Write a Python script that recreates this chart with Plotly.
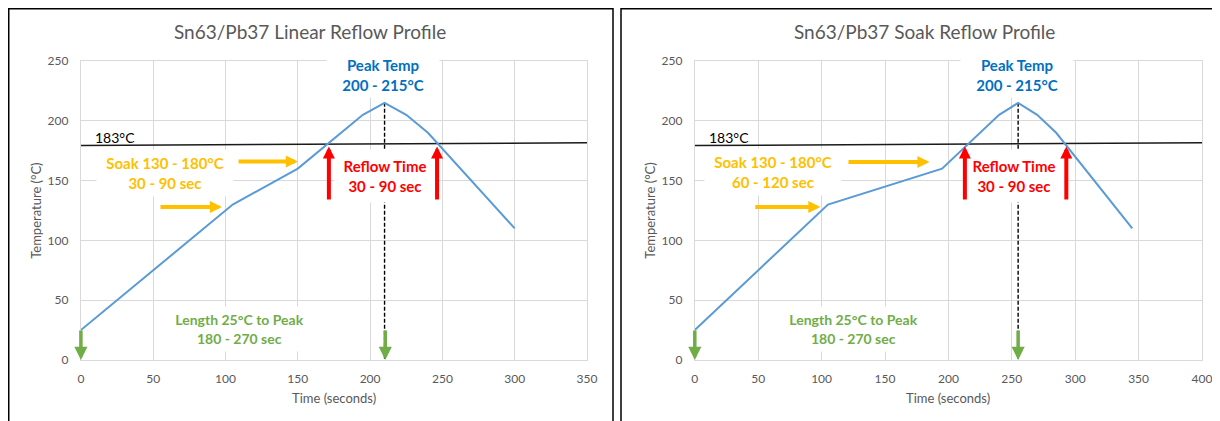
import plotly.graph_objects as go

# page shows the figure with an 8px body margin; compensate
OFF = 8
W, H = 1220 - OFF, 421 - OFF

# ---------------- data ----------------
linear_time = [0, 105, 150, 195, 210, 225, 240, 300]
linear_temp = [25, 130, 160, 205, 215, 205, 190, 110]
soak_time = [0, 105, 195, 240, 255, 270, 285, 345]
soak_temp = [25, 130, 160, 205, 215, 205, 190, 110]

titles = ["Sn63/Pb37 Linear Reflow Profile", "Sn63/Pb37 Soak Reflow Profile"]
x_max = [350, 400]
y_ticks = [0, 50, 100, 150, 200, 250]

liquidus_label = "183°C"
liquidus_y = [179.3, 181.7]          # drawn 183°C line (left end, right end)
peak_time = [210, 255]               # dashed peak markers
peak_temp = 215

# horizontal soak arrows: (x_tail, x_tip, y)
soak_arrows = [
    [(54, 97.5, 128), (108, 150, 166)],
    [(46.5, 99, 128), (120, 185, 165.5)],
]
# vertical reflow arrows
reflow_x = [[171.5, 246.3], [213, 293]]
reflow_y = (133, 178.5)               # tail, tip
# green "length" arrows
length_x = [[0, 210.5], [0, 255]]
length_y = (26, 0)                    # tail, tip

soak_text = ["Soak 130 - 180°C<br>30 - 90 sec", "Soak 130 - 180°C<br>60 - 120 sec"]
peak_text = "Peak Temp<br>200 - 215°C"
reflow_text = "Reflow Time<br>30 - 90 sec"
length_text = "Length 25°C to Peak<br>180 - 270 sec"

# label anchor positions (data units)
liquidus_label_pos = [(23.3, 186), (26.7, 186)]
peak_text_pos = [(208.7, 238.5), (254, 238.5)]
reflow_text_pos = [(210, 153.5), (252, 153.5)]
soak_text_pos = [(58, 156), (62, 157)]
length_text_pos = [(110, 26), (125.5, 26)]

# ---------------- styling ----------------
FONT = "Lato"
BLUE = "#5B9BD5"
GRID = "#D9D9D9"
GRAYTXT = "#595959"
C_PEAK = "#0070C0"
C_SOAK = "#FFC000"
C_REFLOW = "#FF0000"
C_LEN = "#70AD47"

# window pixel geometry of the reference, converted to figure pixels
px0 = [80.9 - OFF, 694.8 - OFF]
px1 = [587.0 - OFF, 1202.0 - OFF]
py_top, py_bot = 61.0 - OFF, 360.0 - OFF

fig = go.Figure()
series = [(linear_time, linear_temp), (soak_time, soak_temp)]
annotations = []
shapes = []

for i in range(2):
    xa = "x" if i == 0 else "x2"
    ya = "y" if i == 0 else "y2"
    t, v = series[i]
    # liquidus line
    fig.add_trace(go.Scatter(x=[0, x_max[i]], y=liquidus_y, mode="lines",
                             line=dict(color="#1a1a1a", width=1.5),
                             xaxis=xa, yaxis=ya, showlegend=False, hoverinfo="skip"))
    # dashed peak marker
    fig.add_trace(go.Scatter(x=[peak_time[i], peak_time[i]], y=[peak_temp, 0], mode="lines",
                             line=dict(color="#000000", width=1.4, dash="4px,2px"),
                             xaxis=xa, yaxis=ya, showlegend=False, hoverinfo="skip"))
    # profile
    fig.add_trace(go.Scatter(x=t, y=v, mode="lines", line=dict(color=BLUE, width=2),
                             xaxis=xa, yaxis=ya, showlegend=False))

    def box(text, pos, color, size, w, h):
        annotations.append(dict(x=pos[0], y=pos[1], xref=xa, yref=ya, text=text,
                                showarrow=False, bgcolor="white", width=w, height=h,
                                borderpad=0, align="center",
                                font=dict(family=FONT, size=size, color=color, weight="bold")))

    box(peak_text, peak_text_pos[i], C_PEAK, 15, 112, 44)
    box(reflow_text, reflow_text_pos[i], C_REFLOW, 15, 100, 52)
    box(soak_text[i], soak_text_pos[i], C_SOAK, 15, 136, 46)
    box(length_text, length_text_pos[i], C_LEN, 14, 145, 44)

    annotations.append(dict(x=liquidus_label_pos[i][0], y=liquidus_label_pos[i][1],
                            xref=xa, yref=ya, text=liquidus_label, showarrow=False,
                            font=dict(family=FONT, size=14, color="#000000")))

    def arrow(x0, y0, x1, y1, color, w, s):
        annotations.append(dict(x=x1, y=y1, ax=x0, ay=y0, xref=xa, yref=ya,
                                axref=xa, ayref=ya, text="", showarrow=True,
                                arrowhead=2, arrowwidth=w, arrowsize=s,
                                arrowcolor=color, standoff=0, startstandoff=0))

    for (xt, xp, yy) in soak_arrows[i]:
        arrow(xt, yy, xp, yy, C_SOAK, 4, 0.6)
    for xx in reflow_x[i]:
        arrow(xx, reflow_y[0], xx, reflow_y[1], C_REFLOW, 4, 0.6)
    for xx in length_x[i]:
        arrow(xx, length_y[0], xx, length_y[1], C_LEN, 3.5, 0.75)

    # titles and axis titles
    pcx = [310.0 - OFF, 924.5 - OFF][i]
    annotations.append(dict(x=pcx / W, y=1 - (31 - OFF) / H, xref="paper", yref="paper",
                            text=titles[i], showarrow=False, xanchor="center", yanchor="middle",
                            font=dict(family=FONT, size=19, color=GRAYTXT)))
    annotations.append(dict(x=(px0[i] + px1[i]) / 2 / W, y=1 - (398 - OFF) / H,
                            xref="paper", yref="paper",
                            text="Time (seconds)", showarrow=False, xanchor="center", yanchor="middle",
                            font=dict(family=FONT, size=13, color=GRAYTXT)))
    annotations.append(dict(x=(px0[i] - 45.1) / W, y=1 - (211 - OFF) / H,
                            xref="paper", yref="paper",
                            text="Temperature (°C)", showarrow=False, textangle=-90,
                            xanchor="center", yanchor="middle",
                            font=dict(family=FONT, size=13, color=GRAYTXT)))

# panel borders
top_b = 0.75
shapes.append(dict(type="rect", xref="paper", yref="paper", x0=0.75 / W, x1=(613 - OFF) / W,
                   y0=-0.05, y1=1 - top_b / H, line=dict(color="#000000", width=1.5)))
shapes.append(dict(type="rect", xref="paper", yref="paper", x0=(621 - OFF) / W, x1=1.05,
                   y0=-0.05, y1=1 - top_b / H, line=dict(color="#000000", width=1.5)))

axis_common = dict(showgrid=True, gridcolor=GRID, gridwidth=1, zeroline=False,
                   showline=True, linecolor=GRID, linewidth=1, mirror=True, ticks="",
                   tickfont=dict(family=FONT, size=12, color=GRAYTXT))
ydom = [1 - py_bot / H, 1 - py_top / H]

fig.update_layout(
    width=W, height=H, margin=dict(l=0, r=0, t=0, b=0, autoexpand=False),
    paper_bgcolor="white", plot_bgcolor="white", showlegend=False,
    xaxis=dict(domain=[px0[0] / W, px1[0] / W], range=[0, x_max[0]], dtick=50,
               ticklabelstandoff=8, anchor="y", **axis_common),
    yaxis=dict(domain=ydom, range=[0, 250], tickvals=y_ticks, ticklabelstandoff=9,
               anchor="x", **axis_common),
    xaxis2=dict(domain=[px0[1] / W, px1[1] / W], range=[0, x_max[1]], dtick=50,
                ticklabelstandoff=8, anchor="y2", **axis_common),
    yaxis2=dict(domain=ydom, range=[0, 250], tickvals=y_ticks, ticklabelstandoff=9,
                anchor="x2", **axis_common),
    annotations=annotations, shapes=shapes,
)

fig.write_html("out.html")
